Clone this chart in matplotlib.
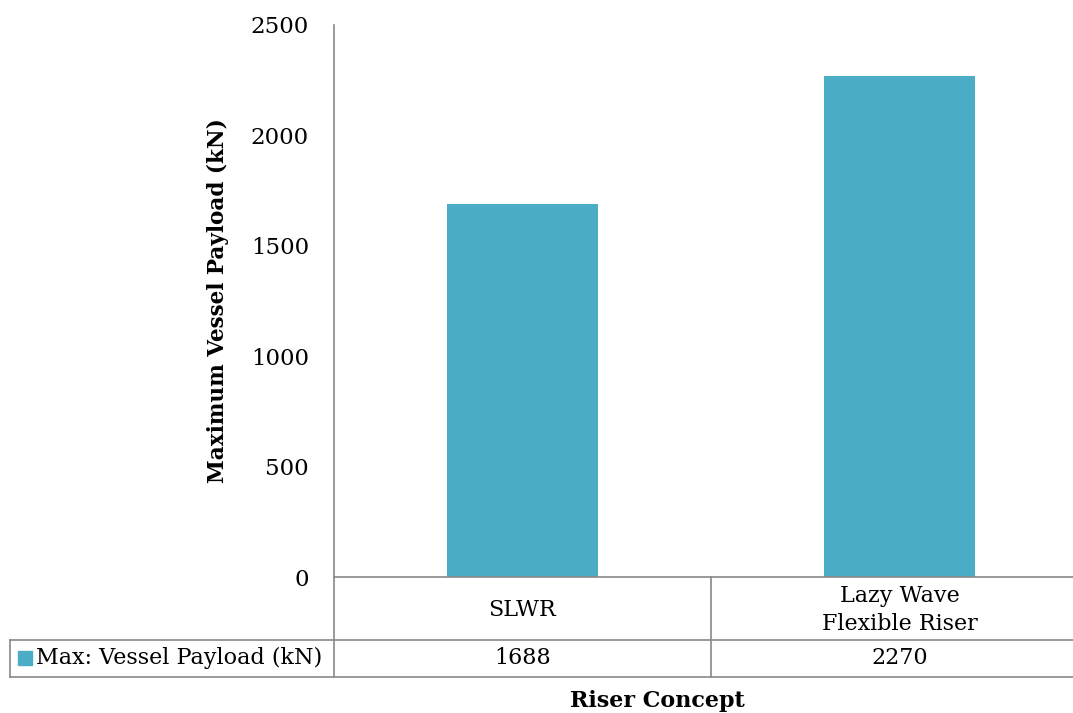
import matplotlib
matplotlib.use('Agg')
import matplotlib.pyplot as plt
from matplotlib.patches import Rectangle

# data
categories = ['SLWR', 'Lazy Wave\nFlexible Riser']
payload = [1688, 2270]
series_name = 'Max: Vessel Payload (kN)'
yticks = [0, 500, 1000, 1500, 2000, 2500]

bar_color = '#4BACC6'
line_color = '#898989'
W, H = 1073, 713

plt.rcParams['font.family'] = 'DejaVu Serif'

fig = plt.figure(figsize=(W / 100, H / 100), dpi=100)

# axes box in pixels: left 334, right 1088 (runs off the figure), top 25, bottom 577
def fx(px):
    return px / W

def fy(py):
    return 1 - py / H

ax = fig.add_axes([fx(334), fy(577), fx(1088) - fx(334), fy(25) - fy(577)])
x = list(range(len(categories)))
ax.bar(x, payload, width=0.4, color=bar_color, zorder=2)
ax.set_xlim(-0.5, len(categories) - 0.5)
ax.set_ylim(0, 2500)
ax.set_yticks(yticks)
ax.set_yticklabels([str(v) for v in yticks], fontsize=16.5)
ax.tick_params(axis='y', length=0, pad=18)
ax.set_xticks([])
for s in ['top', 'right']:
    ax.spines[s].set_visible(False)
for s in ['left', 'bottom']:
    ax.spines[s].set_color(line_color)
    ax.spines[s].set_linewidth(1.2)

ax.set_ylabel('Maximum Vessel Payload (kN)', fontsize=15.5, fontweight='bold', labelpad=16)

# data table drawn below the axes (figure pixel coords)
def hline(y, x0, x1):
    fig.add_artist(plt.Line2D([fx(x0), fx(x1)], [fy(y), fy(y)], color=line_color, lw=1.2))

def vline(xp, y0, y1):
    fig.add_artist(plt.Line2D([fx(xp), fx(xp)], [fy(y0), fy(y1)], color=line_color, lw=1.2))

hline(640, 10, W)
hline(677, 10, W)
vline(10, 640, 677)
vline(334, 577, 677)
vline(711, 577, 677)

col_centers = [522.5, 899.5]
for cx, cat, val in zip(col_centers, categories, payload):
    fig.text(fx(cx), fy(610), cat, ha='center', va='center', fontsize=16, linespacing=1.3)
    fig.text(fx(cx), fy(658), str(val), ha='center', va='center', fontsize=16)

fig.add_artist(Rectangle((fx(18), fy(665)), fx(14), fy(651) - fy(665), color=bar_color))
fig.text(fx(36), fy(658), series_name, ha='left', va='center', fontsize=16)

fig.text(fx(657), fy(701), 'Riser Concept', ha='center', va='center', fontsize=16, fontweight='bold')

fig.savefig('out.png', dpi=100)
